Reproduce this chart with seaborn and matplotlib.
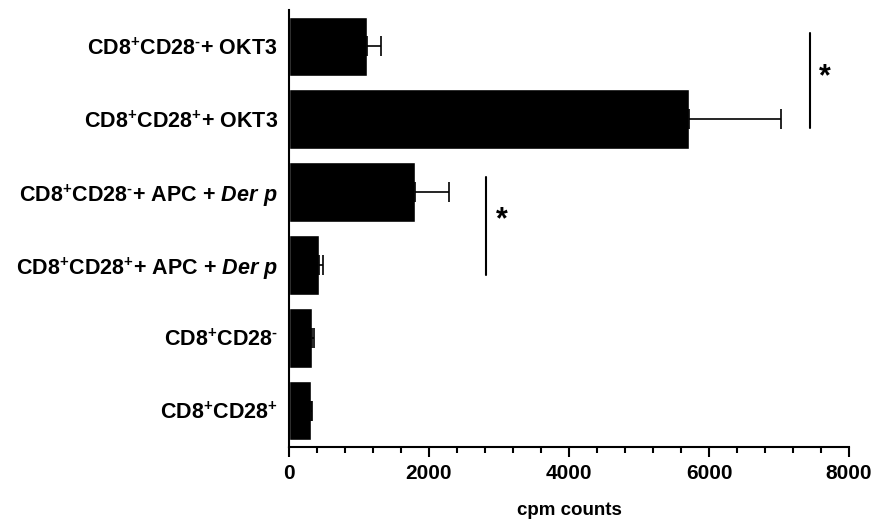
import numpy as np
import pandas as pd
import seaborn as sns
import matplotlib
matplotlib.use("Agg")
import matplotlib.pyplot as plt

# Proliferation of CD8+ subsets (mean cpm and SEM)
conditions = [
    r"$CD8^{+}CD28^{\text{-}}$+ OKT3",
    r"$CD8^{+}CD28^{+}$+ OKT3",
    r"$CD8^{+}CD28^{\text{-}}$+ APC + $\mathit{Der\ p}$",
    r"$CD8^{+}CD28^{+}$+ APC + $\mathit{Der\ p}$",
    r"$CD8^{+}CD28^{\text{-}}$",
    r"$CD8^{+}CD28^{+}$",
]
cpm_mean = [1120, 5710, 1800, 430, 335, 315]
cpm_sem = [200, 1320, 490, 50, 20, 20]

# Significance brackets: x position, y span (category units), star label
sig_x = [7440, 2810]
sig_y_top = [-0.19, 1.79]
sig_y_bottom = [1.12, 3.14]
sig_star_x = [7660, 3040]
sig_star_y = [0.42, 2.38]

sns.set_theme(style="ticks")
plt.rcParams["font.family"] = ["Liberation Sans", "DejaVu Sans"]
plt.rcParams["font.weight"] = "bold"
plt.rcParams["text.color"] = "black"
plt.rcParams["axes.labelcolor"] = "black"
plt.rcParams["xtick.color"] = "black"
plt.rcParams["ytick.color"] = "black"
plt.rcParams["mathtext.fontset"] = "custom"
plt.rcParams["mathtext.rm"] = "Liberation Sans:bold"
plt.rcParams["mathtext.it"] = "Liberation Sans:italic:bold"
plt.rcParams["mathtext.bf"] = "Liberation Sans:bold"
plt.rcParams["mathtext.default"] = "rm"

df = pd.DataFrame({"condition": conditions, "cpm": cpm_mean, "sem": cpm_sem})

fig = plt.figure(figsize=(8.72, 5.21), dpi=100)
ax = fig.add_axes([289 / 872, 74 / 521, 560 / 872, 437 / 521])

sns.barplot(data=df, x="cpm", y="condition", orient="h", color="black",
            saturation=1, width=0.82, ax=ax, errorbar=None)

ypos = np.arange(len(conditions))
ax.errorbar(df["cpm"], ypos, xerr=[np.zeros(len(ypos)), df["sem"]],
            fmt="none", ecolor="black", elinewidth=1.2, capsize=7, capthick=1.2)

for x, y0, y1, sx, sy in zip(sig_x, sig_y_top, sig_y_bottom, sig_star_x, sig_star_y):
    ax.plot([x, x], [y0, y1], color="black", lw=1.5, clip_on=False)
    ax.text(sx, sy, "*", ha="center", va="center", fontsize=22, fontweight="bold")

ax.set_xlim(0, 8000)
ax.set_ylim(5.5, -0.5)
ax.set_xticks([0, 2000, 4000, 6000, 8000])
ax.set_xticks(np.arange(0, 8001, 400), minor=True)
ax.set_xlabel("cpm counts", fontsize=13.5, fontweight="bold", labelpad=14)
ax.set_ylabel("")

# Mathtext labels for mixed bold/italic text with superscripts
ax.set_yticks(ypos)
ax.set_yticklabels(conditions, fontsize=15.5, fontweight="bold")
ax.tick_params(axis="y", length=0, pad=8)
ax.tick_params(axis="x", which="major", length=7, width=1.5, labelsize=15, pad=5)
ax.tick_params(axis="x", which="minor", length=4, width=1.5)
for lab in ax.get_xticklabels():
    lab.set_fontweight("bold")

sns.despine(ax=ax)
for side in ["left", "bottom"]:
    ax.spines[side].set_linewidth(1.5)
    ax.spines[side].set_color("black")

fig.savefig("out.png", dpi=100)
